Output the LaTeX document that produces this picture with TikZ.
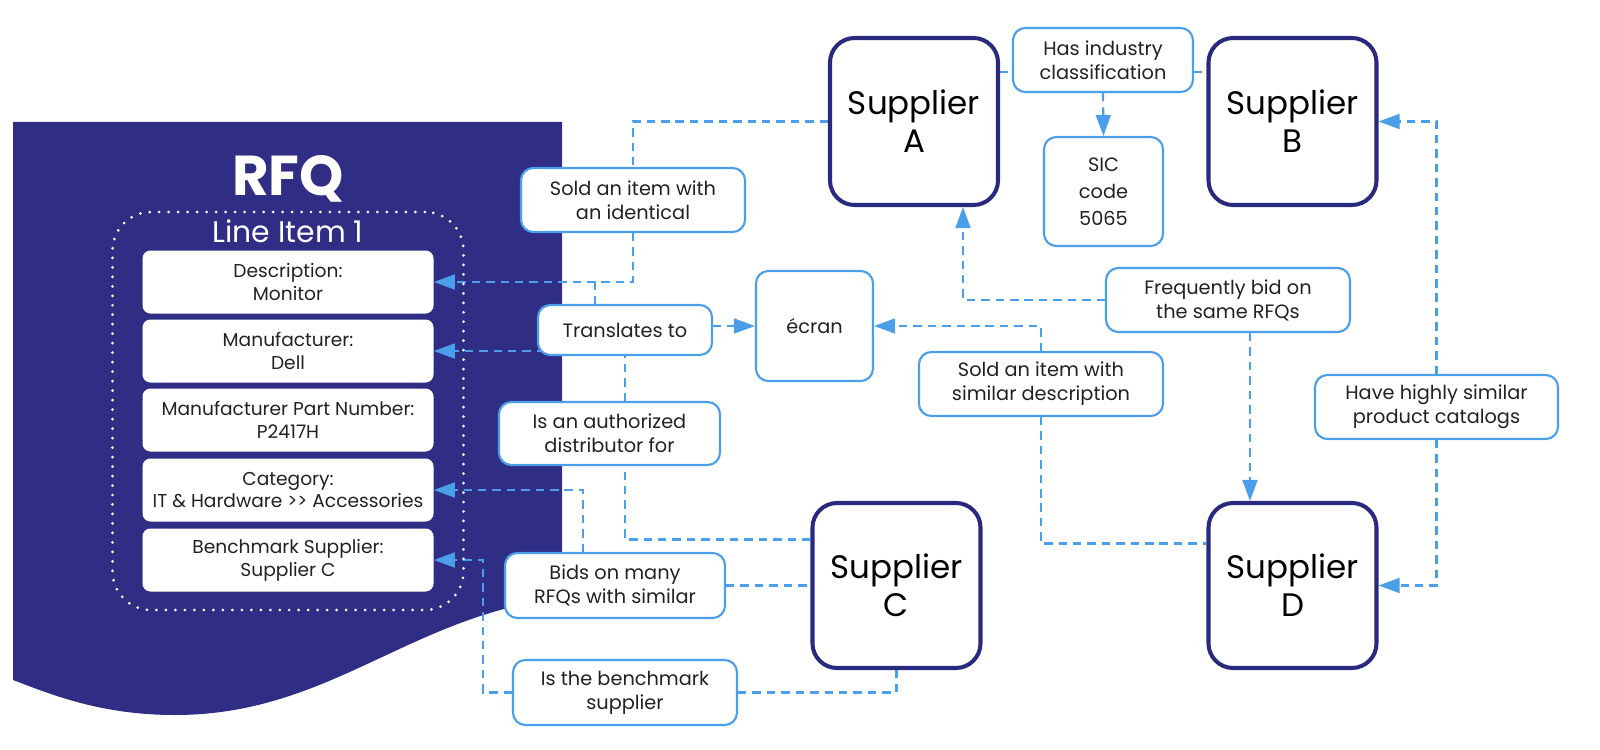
\documentclass[tikz,border=0pt]{standalone}
\usepackage{fontspec}
\setmainfont{Poppins}
\usetikzlibrary{calc,arrows.meta,backgrounds}
\definecolor{rfqnavy}{HTML}{302D85}
\definecolor{supnavy}{HTML}{2A2980}
\definecolor{linkblue}{HTML}{4A9EEA}
\definecolor{txtgray}{HTML}{222222}

\begin{document}
\begin{tikzpicture}[x=0.02cm, y=-0.02cm,
		boxsize/.style 2 args={minimum width=#1*0.02cm, minimum height=#2*0.02cm, inner sep=0pt},
		supplier/.style={draw=supnavy, line width=2.3pt, rounded corners=14pt, fill=white, align=center, text=black, font=\fontsize{18.5}{21.5}\selectfont},
		relation/.style={draw=linkblue, line width=1.2pt, rounded corners=7pt, fill=white, align=center, text=txtgray, font=\fontsize{11}{13.6}\selectfont},
		field/.style={fill=white, rounded corners=4.5pt, align=center, text=txtgray, font=\fontsize{10.6}{13}\selectfont, boxsize={291}{63}},
		link/.style={draw=linkblue, line width=1.2pt, dash pattern=on 4.8pt off 3.4pt},
		linkto/.style={link, -{Triangle[length=12pt,width=8.5pt]}}]
			%%%%% START %%%%%
			\useasboundingbox (0,0) rectangle (1600,750);
			
			\begin{pgfonlayer}{background}
				\fill[rfqnavy] (13,122) -- (562,122) -- (562,598) .. controls (410,615) and (330,715) .. (175,715) .. controls (100,715) and (50,694) .. (13,680) -- cycle;
			\end{pgfonlayer}
			
			% RFQ side
			\node[text=white, font=\bfseries\fontsize{32}{36}\selectfont] (rfq) at (288,179) {RFQ};
			\node[draw=white, line width=1.7pt, line cap=round, dash pattern=on 0pt off 5.4pt, rounded corners=22pt, boxsize={351}{398}] (item) at (288,411) {};
			\node[text=white, font=\fontsize{17}{20}\selectfont] (itemtitle) at (288,231) {Line Item 1};
			\node[field] (desc) at (288,282) {Description:\\Monitor};
			\node[field] (manuf) at (288,351) {Manufacturer:\\Dell};
			\node[field] (mpn) at (288,420) {Manufacturer Part Number:\\P2417H};
			\node[field] (categ) at (288,490) {Category:\\IT \& Hardware >\kern0pt> Accessories};
			\node[field] (bench) at (288,560) {Benchmark Supplier:\\Supplier C};
			
			% suppliers
			\node[supplier, boxsize={168}{167}] (supA) at (914,121.5) {Supplier\\A};
			\node[supplier, boxsize={168}{167}] (supB) at (1292.5,121.5) {Supplier\\B};
			\node[supplier, boxsize={168}{165}] (supC) at (896.5,585.5) {Supplier\\C};
			\node[supplier, boxsize={168}{165}] (supD) at (1292.5,585.5) {Supplier\\D};
			
			% relations
			\node[relation, boxsize={180}{64}] (hasind) at (1103,60) {Has industry\\classification};
			\node[relation, boxsize={119}{109}, font=\fontsize{11}{15.3}\selectfont] (sic) at (1103.5,191.5) {SIC\\code\\5065};
			\node[relation, boxsize={224}{64}] (soldident) at (633,200) {Sold an item with\\an identical};
			\node[relation, boxsize={174}{50}] (transl) at (625,330) {Translates to};
			\node[relation, boxsize={117}{110}] (ecran) at (814.5,326) {écran};
			\node[relation, boxsize={244}{64}] (freqbid) at (1228,300) {Frequently bid on\\the same RFQs};
			\node[relation, boxsize={244}{64}] (soldsim) at (1041,384) {Sold an item with\\similar description};
			\node[relation, boxsize={221}{63}] (authdist) at (609.5,433.5) {Is an authorized\\distributor for};
			\node[relation, boxsize={243}{64}] (havesim) at (1436.5,407) {Have highly similar\\product catalogs};
			\node[relation, boxsize={220}{65}] (bidsmany) at (615,585.5) {Bids on many\\RFQs with similar};
			\node[relation, boxsize={224}{65}] (isbench) at (625,692.5) {Is the benchmark\\supplier};
			
			\coordinate (hasy) at (0,72);
			\coordinate (trtop) at ($(transl.north)+(-30,0)$);
			\coordinate (benchx) at (483,0);
			
			\begin{pgfonlayer}{background}
				\draw[link] (supA.west) -| (soldident.north);
				\draw[linkto] (soldident.south) |- (desc.east);
				\draw[link] (trtop) -- (trtop |- desc.east);
				\draw[linkto] (transl.east |- ecran.west) -- (ecran.west);
				\draw[link] ($(supC.west)+(0,-46)$) -| (authdist.south -| transl.south);
				\draw[linkto] (authdist.north -| transl.south) |- (manuf.east);
				\draw[link] (bidsmany.east) -- (supC.west);
				\draw[linkto] ($(bidsmany.north)+(-32,0)$) |- (categ.east);
				\draw[link] (isbench.east) -| (supC.south);
				\draw[linkto] (isbench.west) -| (benchx |- bench.east) -- (bench.east);
				\draw[link] (supA.east |- hasy) -- (hasind.west |- hasy);
				\draw[link] (hasind.east |- hasy) -- (supB.west |- hasy);
				\draw[linkto] (hasind.south) -- (sic.north);
				\draw[linkto] (freqbid.west) -| ($(supA.south)+(49,0)$);
				\draw[linkto] ($(freqbid.south)+(22,0)$) -- ($(supD.north)+(-42.5,0)$);
				\draw[linkto] (soldsim.north) |- (ecran.east);
				\draw[link] (soldsim.south) |- ($(supD.west)+(0,-42)$);
				\draw[linkto] (havesim.north) |- (supB.east);
				\draw[linkto] (havesim.south) |- (supD.east);
			\end{pgfonlayer}
			
			%%%%% END %%%%%
\end{tikzpicture}
\end{document}
